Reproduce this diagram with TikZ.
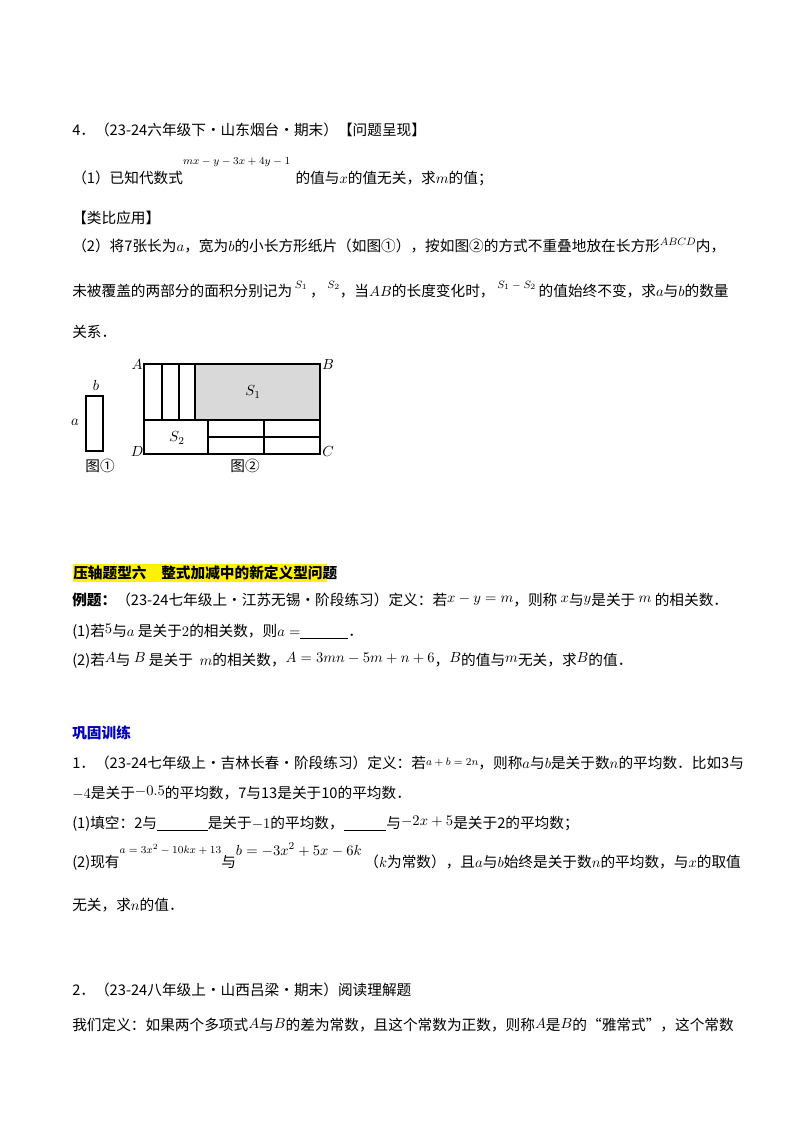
\documentclass[tikz,border=0pt]{standalone}
\usepackage{fontspec}
\setmainfont{Noto Sans CJK SC}
\newcommand{\rz}[2][6pt]{\raisebox{#1}{\fontsize{8}{9}\selectfont #2}}
\newcommand{\rn}[2][2pt]{\raisebox{#1}{#2}}
\begin{document}
\begin{tikzpicture}[x=0.75pt,y=-0.75pt,
  ln/.style={anchor=base west,inner sep=0pt,font=\fontsize{11}{12}\selectfont},
  lb/.style={inner sep=0pt,font=\fontsize{11}{12}\selectfont}]
\useasboundingbox (0,0) rectangle (800,1132);
\node[ln] (l1) at (72,135) {4．（23-24六年级下·山东烟台·期末）【问题呈现】};
\node[ln] (l2) at (72,183) {（1）已知代数式\rz[14pt]{$mx-y-3x+4y-1$}\hspace{4pt}的值与$x$的值无关，求$m$的值；};
\node[ln] (l3) at (72,223) {【类比应用】};
\node[ln] (l4) at (72,251) {（2）将7张长为$a$，宽为$b$的小长方形纸片（如图①），按如图②的方式不重叠地放在长方形\rz[4pt]{$ABCD$}内，};
\node[ln] (l5) at (72,296) {未被覆盖的两部分的面积分别记为\hspace{2pt}\rz{$S_1$}\hspace{2pt}，\hspace{2pt}\rz{$S_2$}，当$AB$的长度变化时，\hspace{2pt}\rz{$S_1-S_2$}\hspace{2pt}的值始终不变，求$a$与$b$的数量};
\node[ln] (l6) at (72,337) {关系．};
% figure
\draw[line width=0.8pt] (86,396) rectangle (103,451);
\fill[gray!30] (195,364) rectangle (320,420);
\draw[line width=0.8pt] (144,364) rectangle (320,454);
\draw[line width=0.8pt] (144,420) -- (320,420);
\foreach \xx in {162,179,195} \draw[line width=0.8pt] (\xx,364) -- (\xx,420);
\draw[line width=0.8pt] (208,420) -- (208,454) (264,420) -- (264,454) (208,437) -- (320,437);
\node[lb] (fb) at (96,385) {$b$};
\node[lb] (fa) at (75,422) {$a$};
\node[lb] (fA) at (137,365) {$A$};
\node[lb] (fB) at (328,365) {$B$};
\node[lb] (fD) at (137,452) {$D$};
\node[lb] (fC) at (328,452) {$C$};
\node[lb] (s1) at (253,392) {$S_1$};
\node[lb] (s2) at (177,438) {$S_2$};
\node[lb] (f1) at (100,466) {图①};
\node[lb] (f2) at (245,466) {图②};
% section
\fill[yellow] (73,564) rectangle (327,582);
\node[ln,font=\fontsize{11}{12}\selectfont\bfseries] (h) at (73,578) {压轴题型六\quad 整式加减中的新定义型问题};
\node[ln] (p1) at (72,605) {\textbf{例题：}（23-24七年级上·江苏无锡·阶段练习）定义：若\rn{$x-y=m$}，则称 \rn{$x$}与\rn{$y$}是关于 \rn{$m$} 的相关数．};
\node[ln] (p2) at (72,636) {(1)若\rn{$5$}与$a$ 是关于$2$的相关数，则$a=$\underline{\hspace{36pt}}．};
\node[ln] (p3) at (72,665) {(2)若\rn{$A$}与 \rn{$B$} 是关于 \ $m$的相关数，\rn{$A=3mn-5m+n+6$}，\rn{$B$}的值与\rn{$m$}无关，求\rn{$B$}的值．};
\node[ln,text=blue!75!black,font=\fontsize{11}{12}\selectfont\bfseries] (q) at (72,738) {巩固训练};
\node[ln] (q1) at (72,768) {1．（23-24七年级上·吉林长春·阶段练习）定义：若\rz[2pt]{$a+b=2n$}，则称$a$与$b$是关于数$n$的平均数．比如3与};
\node[ln] (q2) at (72,798) {$-4$是关于\rn{$-0.5$}的平均数，7与13是关于10的平均数．};
\node[ln] (q3) at (72,828) {(1)填空：2与\underline{\hspace{38pt}}是关于$-1$的平均数，\underline{\hspace{32pt}}与\rn{$-2x+5$}是关于2的平均数；};
\node[ln] (q4) at (72,867) {(2)现有\rz[10pt]{$a=3x^2-10kx+13$}与\raisebox{9pt}{$b=-3x^2+5x-6k$}\hspace{2pt}（$k$为常数），且$a$与$b$始终是关于数$n$的平均数，与$x$的取值};
\node[ln] (q5) at (72,910) {无关，求$n$的值．};
\node[ln] (r1) at (72,995) {2．（23-24八年级上·山西吕梁·期末）阅读理解题};
\node[ln] (r2) at (72,1030) {我们定义：如果两个多项式\rn[1pt]{$A$}与\rn[1pt]{$B$}的差为常数，且这个常数为正数，则称\rn[1pt]{$A$}是\rn[1pt]{$B$}的“雅常式”，这个常数};
\end{tikzpicture}
\end{document}
